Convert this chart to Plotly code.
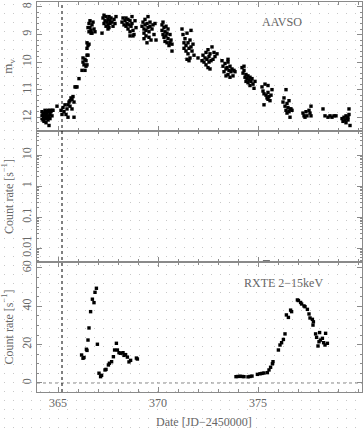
import base64
import plotly.graph_objects as go
from plotly.subplots import make_subplots

# ---------------- data ----------------
aavso_date = [
    364.2, 364.2, 364.2, 364.25, 364.25, 364.3, 364.3, 364.3, 364.35, 364.35, 364.35, 364.4, 364.4, 364.4, 364.4,
    364.45, 364.45, 364.5, 364.5, 364.5, 364.55, 364.55, 364.6, 364.6, 364.6, 364.65, 364.7, 364.7, 364.75, 364.55, 364.95,
    365.15, 365.2, 365.25, 365.3, 365.35, 365.4, 365.45, 365.5, 365.5, 365.55, 365.6, 365.6, 365.65, 365.7, 365.7,
    365.75, 365.8, 365.8, 365.85, 365.9, 365.95, 366.05,
    366.2, 366.25, 366.25, 366.3, 366.35, 366.35, 366.4, 366.4, 366.45, 366.5, 366.45,
    366.45, 366.5, 366.45, 366.55,
    366.5, 366.55, 366.55, 366.6, 366.6, 366.65, 366.7, 366.7, 366.75, 366.8, 366.85, 366.65,
    367.25, 367.3, 367.3, 367.35, 367.4, 367.4, 367.45, 367.5, 367.5, 367.55, 367.55, 367.6, 367.6, 367.65, 367.7,
    367.75, 367.8, 367.85, 367.9, 367.2, 367.5,
    368.2, 368.25, 368.3, 368.35, 368.4, 368.4, 368.45, 368.5, 368.5, 368.55, 368.6, 368.6, 368.65, 368.7, 368.7,
    368.75, 368.8, 368.85, 368.9, 368.6, 368.75,
    369.2, 369.25, 369.3, 369.3, 369.35, 369.35, 369.4, 369.4, 369.45, 369.5, 369.5, 369.55, 369.55, 369.6, 369.6,
    369.65, 369.7, 369.75, 369.8, 369.85, 369.9, 369.45, 369.3,
    370.2, 370.2, 370.25, 370.25, 370.3, 370.3, 370.35, 370.35, 370.4, 370.4, 370.45, 370.45, 370.5, 370.5, 370.55,
    370.6, 370.6, 370.65, 370.7, 370.7,
    371.2, 371.25, 371.3, 371.3, 371.35, 371.4, 371.4, 371.45, 371.5, 371.5, 371.55, 371.6, 371.6, 371.65, 371.65,
    371.7, 371.75, 371.8, 371.45, 371.55,
    372.0,
    372.2, 372.25, 372.3, 372.35, 372.4, 372.4, 372.45, 372.5, 372.5, 372.55, 372.55, 372.6, 372.6, 372.65, 372.7,
    372.75, 372.8, 372.85, 372.95,
    373.2, 373.25, 373.3, 373.35, 373.4, 373.4, 373.45, 373.5, 373.5, 373.55, 373.6, 373.6, 373.65, 373.7, 373.75,
    373.8, 373.85, 373.5,
    374.2, 374.25, 374.3, 374.35, 374.4, 374.4, 374.45, 374.5, 374.5, 374.55, 374.6, 374.6, 374.65, 374.7, 374.75,
    374.8, 374.85, 374.3,
    375.2, 375.25, 375.3, 375.35, 375.4, 375.45, 375.5, 375.5, 375.55, 375.6, 375.65, 375.7, 375.3, 375.5,
    376.25, 376.3, 376.35, 376.4, 376.45, 376.5, 376.55, 376.6, 376.65, 376.7, 376.4, 376.55, 376.6, 376.45,
    377.25, 377.3, 377.35, 377.4, 377.45, 377.55, 377.6, 377.65, 377.65,
    378.25, 378.35, 378.5, 378.6, 378.7, 378.8, 378.9,
    379.2, 379.25, 379.3, 379.35, 379.4, 379.4, 379.45, 379.5, 379.55, 379.55, 379.6, 379.5,
]
aavso_mag = [
    11.8, 11.95, 12.05, 11.9, 12.1, 11.85, 12.0, 12.15, 11.75, 11.95, 12.05, 11.8, 11.9, 12.0, 12.2,
    11.85, 12.05, 11.75, 11.95, 12.1, 11.8, 12.0, 11.75, 11.9, 12.05, 11.8, 11.75, 11.95, 11.75, 12.3, 11.6,
    11.75, 11.9, 11.65, 11.8, 11.55, 11.9, 11.7, 11.55, 12.0, 11.45, 11.4, 11.6, 11.3, 11.35, 11.7,
    11.25, 11.45, 12.0, 10.9, 10.9, 10.9, 10.6,
    10.3, 10.0, 9.85, 10.1, 9.9, 10.3, 9.95, 10.15, 9.75, 9.75, 10.1,
    9.3, 9.4, 9.5, 9.35,
    8.75, 8.6, 8.9, 8.5, 8.75, 8.85, 8.65, 8.95, 8.55, 8.8, 8.9, 8.95,
    8.4, 8.6, 8.3, 8.5, 8.7, 8.35, 8.55, 8.45, 8.65, 8.35, 8.75, 8.5, 8.6, 8.4, 8.55,
    8.7, 8.45, 8.6, 8.35, 8.95, 8.8,
    8.55, 8.4, 8.65, 8.5, 8.4, 8.7, 8.6, 8.45, 8.8, 8.65, 8.5, 8.9, 8.7, 8.35, 8.6,
    8.85, 9.0, 8.5, 8.75, 9.05, 9.05,
    8.7, 8.55, 8.8, 8.95, 8.45, 8.65, 8.85, 9.05, 8.6, 8.75, 8.35, 8.9, 9.1, 8.7, 8.55,
    9.2, 8.8, 8.65, 9.0, 8.6, 9.2, 9.3, 9.15,
    8.65, 8.85, 8.55, 9.0, 8.75, 9.1, 8.9, 9.25, 8.7, 9.05, 8.95, 9.3, 8.8, 9.15, 9.4,
    9.0, 9.3, 9.2, 9.35, 9.6,
    8.8, 9.0, 9.3, 9.5, 9.15, 9.4, 9.6, 8.95, 9.3, 9.7, 9.5, 9.85, 9.2, 9.45, 8.85,
    9.6, 9.35, 9.75, 9.9, 9.95,
    9.85,
    9.95, 9.75, 10.0, 9.85, 9.65, 10.1, 9.9, 9.55, 10.2, 9.8, 10.0, 9.7, 10.25, 9.95, 9.45,
    9.9, 9.65, 9.8, 9.7,
    9.95, 10.15, 10.35, 10.05, 10.25, 10.5, 10.2, 10.45, 10.0, 10.3, 10.55, 10.15, 10.35, 10.25, 10.5,
    10.3, 10.35, 9.9,
    10.2, 10.4, 10.3, 10.55, 10.45, 10.7, 10.6, 10.5, 10.75, 10.65, 10.55, 10.85, 10.7, 10.6, 10.8,
    10.95, 10.7, 10.15,
    10.9, 11.05, 11.15, 10.8, 11.2, 11.3, 11.1, 11.35, 11.25, 11.4, 11.2, 11.0, 11.55, 10.85,
    11.45, 11.3, 11.6, 11.75, 11.5, 11.65, 11.8, 11.7, 11.7, 11.75, 11.0, 11.4, 12.0, 11.85,
    11.85, 11.95, 12.0, 11.8, 11.95, 11.75, 11.85, 11.95, 11.6,
    11.7, 11.95, 12.0, 11.95, 12.0, 11.95, 11.95,
    12.05, 12.15, 12.0, 12.1, 12.2, 11.95, 12.05, 12.1, 11.9, 11.7, 12.3, 12.0,
]

rxte_date = [
    366.18, 366.25, 366.3, 366.42, 366.45, 366.5, 366.55, 366.63, 366.72, 366.8, 366.85, 366.92, 366.97,
    367.05, 367.13, 367.18, 367.35, 367.4, 367.52, 367.57, 367.68, 367.77, 367.83, 367.92, 367.97,
    368.05, 368.12, 368.25, 368.3, 368.38, 368.47, 368.55, 368.63, 368.92, 368.97,
    373.9, 374.0, 374.1, 374.2, 374.3, 374.5, 374.6, 374.7, 374.97, 375.1, 375.2, 375.3, 375.47,
    375.55, 375.63, 375.72, 375.75,
    376.02, 376.1, 376.18, 376.27, 376.35, 376.42, 376.52, 376.63, 376.68,
    376.97, 377.02, 377.13, 377.18, 377.3, 377.35, 377.47, 377.55, 377.6, 377.72, 377.77, 377.75,
    377.88, 377.93, 378.05, 378.08, 378.12, 378.22, 378.28, 378.38, 378.35, 378.47, 378.0,
]
rxte_rate = [
    14.6, 12.9, 13.3, 17.6, 17.0, 22.4, 28.7, 37.2, 43.7, 41.9, 47.3, 49.4, 20.2,
    5.1, 3.3, 4.0, 6.8, 7.1, 9.4, 10.3, 11.1, 13.7, 17.2, 20.7, 17.2,
    15.8, 15.5, 15.8, 14.4, 14.8, 13.5, 11.0, 11.8, 13.0, 12.5,
    3.3, 3.4, 3.5, 3.4, 3.3, 3.2, 3.4, 3.6, 4.5, 4.8, 5.0, 5.2, 5.4,
    6.8, 8.2, 10.0, 11.1,
    17.2, 19.8, 21.0, 22.7, 25.6, 35.5, 34.2, 38.0, 37.2,
    43.3, 43.0, 42.0, 41.2, 40.2, 39.8, 38.4, 36.0, 33.9, 33.2, 31.9, 30.2,
    25.6, 23.8, 21.5, 26.3, 22.4, 23.3, 21.0, 25.9, 19.8, 20.7, 19.3,
]
# single off-scale point sitting on the lower edge of the middle panel
mid_date = [375.42]
mid_rate = [0.0037]

outburst_onset = 365.2
x_range = [363.95, 380.2]
mag_range = [12.5, 7.82]
log_range = [-2.45, 1.78]
rate_range = [-4.7, 63.1]

x_ticks = [365, 370, 375]
mag_ticks = [8, 9, 10, 11, 12]
log_ticks = [0.01, 0.1, 1, 10]
log_tick_text = ["0.01", "0.1", "1", "10"]
log_minor = [m * d for d in (0.001, 0.01, 0.1, 1, 10) for m in range(2, 10)]
rate_ticks = [0, 20, 40, 60]

# ---------------- figure ----------------
W, H = 364, 429
ML, MR, MT, MB = 37, 2, 2, 37
PW, PH = W - ML - MR, H - MT - MB

FONT = "Liberation Serif, DejaVu Serif, serif"
TXT = "#666666"
AX = "#8a8a8a"

fig = make_subplots(rows=3, cols=1, shared_xaxes=True, vertical_spacing=0,
                    row_heights=[129, 131, 130])

mk = dict(symbol="square", size=3.4, color="black")
fig.add_trace(go.Scatter(x=aavso_date, y=aavso_mag, mode="markers", marker=mk,
                         showlegend=False, hoverinfo="skip"), row=1, col=1)
fig.add_trace(go.Scatter(x=mid_date, y=mid_rate, mode="markers",
                         marker=dict(symbol="line-ew", size=5, color="black", line=dict(width=2, color="black")),
                         cliponaxis=False, showlegend=False, hoverinfo="skip"), row=2, col=1)
fig.add_trace(go.Scatter(x=rxte_date, y=rxte_rate, mode="markers", marker=mk,
                         showlegend=False, hoverinfo="skip"), row=3, col=1)

axis_common = dict(showline=True, linecolor=AX, linewidth=1, mirror="allticks",
                   ticks="inside", tickcolor=AX, showgrid=False, zeroline=False, automargin=False,
                   tickfont=dict(family=FONT, size=12, color=TXT))

for r in (1, 2, 3):
    fig.update_xaxes(range=x_range, tickvals=x_ticks, ticklen=5,
                     minor=dict(dtick=1, ticks="inside", ticklen=3, tickcolor=AX, showgrid=False),
                     showticklabels=(r == 3), row=r, col=1, **axis_common)

fig.update_yaxes(range=mag_range, tickvals=mag_ticks, tickangle=-90, ticklen=5,
                 minor=dict(dtick=0.2, ticks="inside", ticklen=2, tickcolor=AX),
                 title=dict(text="m<sub>v</sub>", font=dict(family=FONT, size=13, color=TXT), standoff=4),
                 row=1, col=1, **axis_common)
fig.update_yaxes(type="log", range=log_range, tickvals=log_ticks, ticktext=log_tick_text,
                 tickangle=-90, ticklen=5,
                 minor=dict(tickvals=log_minor, ticks="inside", ticklen=2, tickcolor=AX),
                 title=dict(text="Count rate [s<sup>\u22121</sup>]", font=dict(family=FONT, size=12, color=TXT),
                            standoff=4),
                 row=2, col=1, **axis_common)
fig.update_yaxes(range=rate_range, tickvals=rate_ticks, tickangle=-90, ticklen=5,
                 minor=dict(dtick=5, ticks="inside", ticklen=2, tickcolor=AX),
                 title=dict(text="Count rate [s<sup>\u22121</sup>]", font=dict(family=FONT, size=12, color=TXT),
                            standoff=4),
                 row=3, col=1, **axis_common)

# zero line in the X-ray panel
fig.add_hline(y=0, line=dict(color="#888888", width=1, dash="dot"), row=3, col=1)
# outburst onset marker through all panels
fig.add_shape(type="line", xref="x", yref="paper", x0=outburst_onset, x1=outburst_onset, y0=0, y1=1,
              line=dict(color="black", width=1, dash="dot"))

fig.add_annotation(text="AAVSO", xref="x", yref="y", x=376.2, y=8.55, showarrow=False,
                   font=dict(family=FONT, size=12, color=TXT))
fig.add_annotation(text="RXTE 2\u221215keV", xref="x3", yref="y3", x=376.25, y=52.2, showarrow=False,
                   font=dict(family=FONT, size=12, color=TXT))
# x-axis title as a paper annotation for exact placement
fig.add_annotation(text="Date [JD\u22122450000]", xref="paper", yref="paper",
                   x=(204 - ML) / PW, y=-(422 - MT - PH) / PH, showarrow=False,
                   xanchor="center", yanchor="middle",
                   font=dict(family=FONT, size=12, color=TXT))

# scanned-paper dot texture
svg = (f'<svg xmlns="http://www.w3.org/2000/svg" width="{W}" height="{H}">'
       '<defs><pattern id="p" width="9" height="9" patternUnits="userSpaceOnUse">'
       '<rect x="4" y="4" width="1" height="1" fill="#c8c8c8"/></pattern></defs>'
       f'<rect width="{W}" height="{H}" fill="url(#p)"/></svg>')
uri = "data:image/svg+xml;base64," + base64.b64encode(svg.encode()).decode()
fig.add_layout_image(source=uri, xref="paper", yref="paper", x=-ML / PW, y=1 + MT / PH,
                     sizex=W / PW, sizey=H / PH, sizing="stretch", xanchor="left", yanchor="top",
                     layer="below")

fig.update_layout(width=W, height=H, margin=dict(l=ML, r=MR, t=MT, b=MB),
                  paper_bgcolor="white", plot_bgcolor="rgba(0,0,0,0)",
                  font=dict(family=FONT, color=TXT))

fig.write_html("out.html", config={"displayModeBar": False},
               post_script="document.body.style.margin='0';")
